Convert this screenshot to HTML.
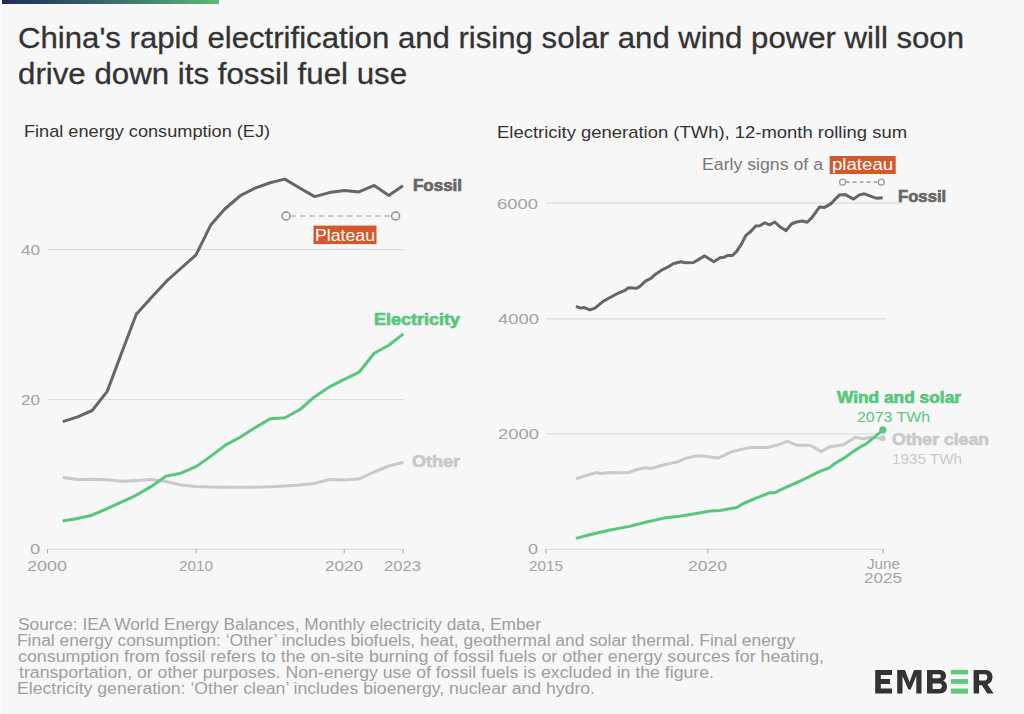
<!DOCTYPE html>
<html><head><meta charset="utf-8">
<style>
html,body{margin:0;padding:0;background:#f7f7f7;}
body{width:1024px;height:714px;overflow:hidden;position:relative;}
svg{position:absolute;left:0;top:0;}
text{font-family:"Liberation Sans",sans-serif;}
</style></head><body>
<svg width="1024" height="714" viewBox="0 0 1024 714">
<rect x="0" y="0" width="1024" height="714" fill="#f7f7f7"/>
<rect x="0" y="0" width="2" height="714" fill="#fcfcfc"/>
<defs><linearGradient id="g" x1="0" x2="1" y1="0" y2="0"><stop offset="0" stop-color="#1f2a5c"/><stop offset="0.5" stop-color="#3a6a6a"/><stop offset="1" stop-color="#5fb877"/></linearGradient></defs>
<rect x="2" y="0" width="217" height="4" fill="url(#g)"/>

<!-- left chart grid -->
<g stroke="#dcdcdc" stroke-width="1.2" fill="none">
<line x1="47.5" y1="249.6" x2="403.5" y2="249.6"/>
<line x1="47.5" y1="399.5" x2="403.5" y2="399.5"/>
<line x1="546" y1="203.2" x2="902" y2="203.2"/>
<line x1="546" y1="318.8" x2="885.5" y2="318.8"/>
<line x1="546" y1="433.9" x2="885.5" y2="433.9"/>
</g>
<g stroke="#d6d6d6" stroke-width="1.1" fill="none">
<line x1="47.5" y1="549.3" x2="403.5" y2="549.3"/>
<line x1="546" y1="549.2" x2="883.5" y2="549.2"/>
</g>
<g stroke="#ababab" stroke-width="1.1" fill="none">
<line x1="47.5" y1="549" x2="47.5" y2="553.5"/>
<line x1="196.2" y1="549" x2="196.2" y2="553.5"/>
<line x1="344.2" y1="549" x2="344.2" y2="553.5"/>
<line x1="403.1" y1="549" x2="403.1" y2="553.5"/>
<line x1="545.9" y1="549" x2="545.9" y2="553.5"/>
<line x1="707.7" y1="549" x2="707.7" y2="553.5"/>
<line x1="883.2" y1="549" x2="883.2" y2="553.5"/>
</g>
<g fill="none" stroke-width="3" stroke-linejoin="round" stroke-linecap="butt">
<polyline stroke="#c9c9c9" points="62.7,477.5 77.3,479.6 92.0,479.2 107.0,479.8 122.0,481.2 136.5,480.5 151.0,479.6 166.0,481.5 181.0,485.0 196.0,486.5 211.0,487.0 225.0,487.3 240.0,487.3 255.0,487.2 270.0,486.8 285.0,486.0 300.0,485.0 314.0,483.5 329.6,479.5 344.7,480.0 359.0,479.0 374.0,472.0 388.8,466.0 403.4,462.4"/>
<polyline stroke="#666666" points="62.8,421.7 77.6,416.8 92.2,410.5 107.2,391.4 122.9,349.5 136.3,314.3 151.4,297.5 166.5,281.2 181.3,268.0 196.0,254.8 210.7,225.1 224.8,209.0 240.5,195.5 255.1,188.1 270.9,182.5 284.8,179.1 299.7,188.0 314.7,196.6 329.3,192.6 344.5,190.5 358.9,191.9 374.2,185.4 388.8,195.5 402.9,185.8"/>
<polyline stroke="#57c77b" points="62.7,521.0 77.3,518.5 92.0,515.2 106.6,508.8 121.3,502.1 136.0,495.3 150.6,486.9 166.2,476.1 180.9,473.2 196.5,466.4 210.2,456.6 225.8,444.9 240.1,437.2 255.2,427.6 270.3,418.8 285.0,417.8 300.1,409.5 314.4,396.9 329.6,386.8 344.7,379.2 359.1,372.2 374.2,353.3 388.8,345.2 403.4,333.9"/>
<polyline stroke="#c9c9c9" points="575.9,478.8 585.6,475.6 596.6,472.5 601.2,473.6 610.6,472.5 621.6,472.8 628.6,472.5 635.6,470.0 645.0,467.8 651.2,468.4 660.6,465.8 670.0,463.4 677.8,461.9 685.6,458.4 695.0,456.1 704.4,455.9 712.2,457.2 718.4,458.0 726.2,454.4 731.8,451.6 749.4,447.6 767.1,447.6 778.8,444.7 787.6,441.4 797.5,445.3 810.2,445.3 821.0,451.6 829.8,446.7 843.5,444.7 855.3,437.3 863.1,438.8 872.9,437.3 882.7,438.4"/>
<polyline stroke="#666666" points="575.9,306.3 580.9,308.1 583.8,307.5 590.0,309.8 595.0,308.1 602.8,301.6 609.1,298.0 616.1,294.2 623.9,290.9 628.6,287.8 636.4,288.3 639.5,286.7 645.8,280.9 650.5,278.6 655.2,274.5 662.2,269.8 667.7,267.2 673.1,263.8 680.9,261.7 685.6,262.8 693.4,262.5 698.1,259.7 704.7,255.9 713.8,261.7 720.0,257.8 724.2,257.2 727.5,255.5 732.5,255.5 736.6,251.4 741.6,243.9 745.7,235.6 750.7,231.5 755.7,226.1 759.8,225.7 764.8,222.8 769.8,224.8 774.8,222.0 780.6,227.3 786.1,230.6 791.4,224.0 796.4,222.0 802.2,221.0 807.2,222.3 812.1,217.4 819.6,206.9 824.6,207.4 830.4,204.1 839.5,194.9 845.3,194.6 853.6,199.1 859.4,194.9 864.4,193.8 871.9,196.6 876.9,198.3 882.7,197.8"/>
<polyline stroke="#57c77b" points="575.9,538.4 588.8,535.0 609.0,530.3 629.4,526.4 646.6,522.0 663.8,518.1 679.4,516.2 695.0,513.8 710.6,511.1 720.0,510.4 736.7,507.5 743.5,503.5 757.3,497.6 770.0,492.7 774.9,492.7 784.7,487.8 800.4,481.0 812.2,475.1 821.0,470.8 828.8,468.2 833.7,464.3 843.5,458.4 853.3,451.6 862.2,445.7 865.1,444.7 874.9,436.9 882.7,430.0"/>
</g>
<circle cx="882.5" cy="438.2" r="3" fill="#c9c9c9"/>
<circle cx="882.8" cy="429.8" r="3.6" fill="#57c77b"/>

<!-- plateau annotation left -->
<line x1="290.5" y1="216" x2="391" y2="216" stroke="#9a9a9a" stroke-width="1.2" stroke-dasharray="5.6 3.8"/>
<circle cx="286" cy="216" r="4" fill="#f7f7f7" stroke="#8f8f8f" stroke-width="1.5"/>
<circle cx="395.6" cy="216" r="4" fill="#f7f7f7" stroke="#8f8f8f" stroke-width="1.5"/>
<rect x="313.5" y="225.6" width="63" height="18.5" fill="#d4582a"/>


<!-- right annotation -->

<rect x="829.7" y="156" width="66" height="18" fill="#d4582a"/>

<line x1="845.6" y1="182.2" x2="878.5" y2="182.2" stroke="#8f8f8f" stroke-width="1.3" stroke-dasharray="4 3"/>
<circle cx="842.6" cy="182.2" r="3" fill="#f7f7f7" stroke="#999" stroke-width="1.2"/>
<circle cx="881.3" cy="182.2" r="3" fill="#f7f7f7" stroke="#999" stroke-width="1.2"/>

<text x="18.00" y="47.5" font-size="29" font-weight="normal" fill="#333333" stroke="#333333" stroke-width="0.3" textLength="946.01" lengthAdjust="spacingAndGlyphs">China's rapid electrification and rising solar and wind power will soon</text>
<text x="18.00" y="84.4" font-size="29" font-weight="normal" fill="#333333" stroke="#333333" stroke-width="0.3" textLength="389.01" lengthAdjust="spacingAndGlyphs">drive down its fossil fuel use</text>
<text x="24.00" y="137.3" font-size="17" font-weight="normal" fill="#333333" textLength="246.02" lengthAdjust="spacingAndGlyphs">Final energy consumption (EJ)</text>
<text x="497.00" y="137.5" font-size="17" font-weight="normal" fill="#333333" textLength="410.01" lengthAdjust="spacingAndGlyphs">Electricity generation (TWh), 12-month rolling sum</text>
<text x="21.00" y="254.6" font-size="15" font-weight="normal" fill="#a3a3a3" textLength="19.19" lengthAdjust="spacingAndGlyphs">40</text>
<text x="21.00" y="404.8" font-size="15" font-weight="normal" fill="#a3a3a3" textLength="19.16" lengthAdjust="spacingAndGlyphs">20</text>
<text x="30.00" y="554.3" font-size="15" font-weight="normal" fill="#a3a3a3" textLength="10.27" lengthAdjust="spacingAndGlyphs">0</text>
<text x="27.00" y="570.8" font-size="15" font-weight="normal" fill="#a3a3a3" textLength="40.02" lengthAdjust="spacingAndGlyphs">2000</text>
<text x="179.00" y="571.0" font-size="15" font-weight="normal" fill="#a3a3a3" textLength="34.06" lengthAdjust="spacingAndGlyphs">2010</text>
<text x="325.00" y="571.0" font-size="15" font-weight="normal" fill="#a3a3a3" textLength="38.03" lengthAdjust="spacingAndGlyphs">2020</text>
<text x="384.00" y="571.0" font-size="15" font-weight="normal" fill="#a3a3a3" textLength="37.06" lengthAdjust="spacingAndGlyphs">2023</text>
<text x="497.00" y="208.7" font-size="15" font-weight="normal" fill="#a3a3a3" textLength="41.09" lengthAdjust="spacingAndGlyphs">6000</text>
<text x="498.00" y="324.1" font-size="15" font-weight="normal" fill="#a3a3a3" textLength="41.02" lengthAdjust="spacingAndGlyphs">4000</text>
<text x="498.00" y="439.2" font-size="15" font-weight="normal" fill="#a3a3a3" textLength="41.05" lengthAdjust="spacingAndGlyphs">2000</text>
<text x="528.00" y="554.4" font-size="15" font-weight="normal" fill="#a3a3a3" textLength="10.09" lengthAdjust="spacingAndGlyphs">0</text>
<text x="529.00" y="570.8" font-size="15" font-weight="normal" fill="#a3a3a3" textLength="34.06" lengthAdjust="spacingAndGlyphs">2015</text>
<text x="688.00" y="571.0" font-size="15" font-weight="normal" fill="#a3a3a3" textLength="39.09" lengthAdjust="spacingAndGlyphs">2020</text>
<text x="867.00" y="568.7" font-size="15" font-weight="normal" fill="#a3a3a3" textLength="33.02" lengthAdjust="spacingAndGlyphs">June</text>
<text x="864.00" y="582.7" font-size="15" font-weight="normal" fill="#a3a3a3" textLength="38.12" lengthAdjust="spacingAndGlyphs">2025</text>
<text x="413.00" y="190.7" font-size="16.5" font-weight="bold" fill="#666666" stroke="#666666" stroke-width="0.7" textLength="49.04" lengthAdjust="spacingAndGlyphs">Fossil</text>
<text x="374.00" y="324.7" font-size="16.5" font-weight="bold" fill="#57c77b" stroke="#57c77b" stroke-width="0.7" textLength="86.02" lengthAdjust="spacingAndGlyphs">Electricity</text>
<text x="412.00" y="467.0" font-size="16.5" font-weight="bold" fill="#c9c9c9" stroke="#c9c9c9" stroke-width="0.7" textLength="48.04" lengthAdjust="spacingAndGlyphs">Other</text>
<text x="898.00" y="201.7" font-size="16.5" font-weight="bold" fill="#666666" stroke="#666666" stroke-width="0.7" textLength="48.17" lengthAdjust="spacingAndGlyphs">Fossil</text>
<text x="837.00" y="402.9" font-size="16.5" font-weight="bold" fill="#57c77b" stroke="#57c77b" stroke-width="0.7" textLength="124.02" lengthAdjust="spacingAndGlyphs">Wind and solar</text>
<text x="857.00" y="421.7" font-size="14" font-weight="normal" fill="#57c77b" textLength="73.05" lengthAdjust="spacingAndGlyphs">2073 TWh</text>
<text x="892.00" y="445.4" font-size="16.5" font-weight="bold" fill="#c9c9c9" stroke="#c9c9c9" stroke-width="0.7" textLength="97.01" lengthAdjust="spacingAndGlyphs">Other clean</text>
<text x="892.00" y="463.5" font-size="14" font-weight="normal" fill="#c9c9c9" textLength="70.04" lengthAdjust="spacingAndGlyphs">1935 TWh</text>
<text x="702.00" y="170.0" font-size="17" font-weight="normal" fill="#777777" textLength="121.02" lengthAdjust="spacingAndGlyphs">Early signs of a</text>
<text x="315.00" y="240.5" font-size="17" font-weight="normal" fill="#ffffff" textLength="60.09" lengthAdjust="spacingAndGlyphs">Plateau</text>
<text x="832.00" y="169.5" font-size="17" font-weight="normal" fill="#ffffff" textLength="61.12" lengthAdjust="spacingAndGlyphs">plateau</text>
<text x="18.00" y="630" font-size="16" font-weight="normal" fill="#9e9e9e" textLength="523.00" lengthAdjust="spacingAndGlyphs">Source: IEA World Energy Balances, Monthly electricity data, Ember</text>
<text x="17.00" y="645.9" font-size="16" font-weight="normal" fill="#9e9e9e" textLength="778.01" lengthAdjust="spacingAndGlyphs">Final energy consumption: ‘Other’ includes biofuels, heat, geothermal and solar thermal. Final energy</text>
<text x="18.00" y="661.8" font-size="16" font-weight="normal" fill="#9e9e9e" textLength="806.01" lengthAdjust="spacingAndGlyphs">consumption from fossil refers to the on-site burning of fossil fuels or other energy sources for heating,</text>
<text x="19.00" y="677.7" font-size="16" font-weight="normal" fill="#9e9e9e" textLength="695.00" lengthAdjust="spacingAndGlyphs">transportation, or other purposes. Non-energy use of fossil fuels is excluded in the figure.</text>
<text x="17.00" y="693.6" font-size="16" font-weight="normal" fill="#9e9e9e" textLength="578.02" lengthAdjust="spacingAndGlyphs">Electricity generation: ‘Other clean’ includes bioenergy, nuclear and hydro.</text>
<!-- EMBER logo -->
<g fill="#333333" fill-rule="evenodd">
<path d="M875.2,669.9 H892 V675 H880.8 V679.1 H890 V683.9 H880.8 V688.6 H892 V693.6 H875.2 Z"/>
<path d="M897.2,693.6 V669.9 H905 L909.5,682.2 L914,669.9 H921.5 V693.6 H916.3 V676 L910.6,689.6 H908.4 L902.5,676 V693.6 Z"/>
<path d="M927,669.9 H939.5 C944,669.9 946,672.5 946,675.8 C946,678.2 944.8,680 943,680.8 C945.5,681.6 947,683.7 947,686.6 C947,690.6 944.5,693.6 939.5,693.6 H927 Z M932.6,674.3 H939 C940.2,674.3 940.9,675.2 940.9,676.3 C940.9,677.4 940.2,678.3 939,678.3 H932.6 Z M932.6,683.4 H939.8 C941.1,683.4 941.9,684.6 941.9,686.1 C941.9,687.7 941.1,688.9 939.8,688.9 H932.6 Z"/>
<path d="M973.6,669.9 H985.5 C990,669.9 992.5,672.8 992.5,677 C992.5,680.6 990.6,683.4 987.5,684.4 L993.6,693.6 H987.3 L981.9,685.2 H979.1 V693.6 H973.6 Z M979.1,674.3 H985 C986.5,674.3 987.3,675.5 987.3,677.3 C987.3,679.2 986.5,680.5 985,680.5 H979.1 Z"/>
</g>
<g fill="#5cc97c">
<rect x="950.9" y="669.9" width="17.1" height="4.5"/>
<rect x="950.9" y="679.1" width="17.1" height="4.7"/>
<rect x="950.9" y="688.6" width="17.1" height="5"/>
</g>
</svg>
</body></html>
